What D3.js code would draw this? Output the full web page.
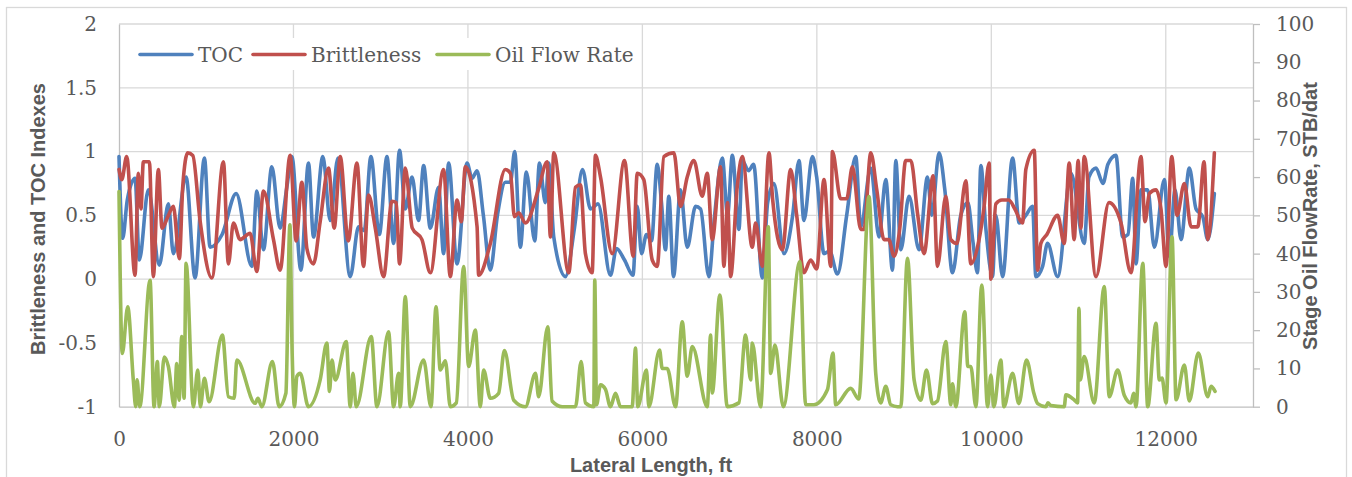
<!DOCTYPE html>
<html>
<head>
    <meta charset="utf-8">
    <title>TOC, Brittleness and Oil Flow Rate</title>
    <style>
        body { margin: 0; background: #fff; }
        .grid line { stroke: #d9d9d9; stroke-width: 1.3px; }
        .axis .domain, .axis line { stroke: #bfbfbf; stroke-width: 1.3px; }
        .axis text, .legend text {
            font-family: "DejaVu Serif", serif;
            font-size: 20px;
            fill: #595959;
        }
        .title {
            font-family: "Liberation Sans", Arial, sans-serif;
            font-weight: bold;
            font-size: 20px;
            fill: #595959;
        }
        .series { fill: none; stroke-width: 3.6px; stroke-linejoin: round; stroke-linecap: round; }
    </style>
</head>
<body>
<script src="https://cdn.jsdelivr.net/npm/d3@7"></script>
<script>
    // values: [lateral length ft, value]
    var tocPoints = [[0,0.96],[42,0.32],[95,0.62],[184,0.79],[233,0.15],[336,0.70],[462,0.11],[566,0.59],[623,0.20],[769,0.80],[872,0.01],[979,0.95],[1044,0.25],[1182,0.35],[1343,0.67],[1523,0.10],[1580,0.69],[1656,0.23],[1752,0.88],[1847,0.40],[1924,0.72],[1982,0.96],[2085,0.07],[2172,0.91],[2230,0.33],[2337,0.96],[2421,0.46],[2510,0.95],[2651,0.02],[2746,0.41],[2811,0.38],[2888,0.96],[2984,0.35],[3072,0.96],[3148,0.28],[3216,1.01],[3282,0.55],[3359,0.80],[3434,0.46],[3492,0.89],[3569,0.40],[3664,0.72],[3721,0.20],[3779,0.91],[3875,0.12],[3990,0.91],[4047,0.79],[4105,0.85],[4177,0.50],[4257,0.07],[4338,0.50],[4429,0.76],[4487,0.76],[4536,1.00],[4601,0.25],[4670,0.84],[4766,0.30],[4820,0.91],[4888,0.60],[4926,0.91],[4984,0.33],[5118,0.02],[5221,0.40],[5313,0.86],[5405,0.55],[5491,0.59],[5634,0.03],[5703,0.24],[5795,0.15],[5892,0.03],[5941,0.57],[5990,0.20],[6047,0.35],[6105,0.30],[6170,0.90],[6219,0.60],[6265,0.23],[6303,0.65],[6357,0.02],[6437,0.70],[6514,0.25],[6610,0.57],[6667,0.55],[6762,0.02],[6828,0.50],[6916,0.95],[6977,0.50],[7031,0.97],[7107,0.39],[7145,0.93],[7218,0.85],[7275,0.90],[7375,0.01],[7436,0.60],[7508,0.75],[7623,0.20],[7723,0.50],[7795,0.93],[7852,0.46],[7949,0.96],[7998,0.80],[8082,0.20],[8147,0.22],[8236,0.04],[8342,0.50],[8446,0.96],[8503,0.41],[8618,0.87],[8713,0.33],[8790,0.78],[8867,0.07],[8905,0.93],[8962,0.23],[9057,0.65],[9172,0.23],[9268,0.80],[9318,0.50],[9401,0.99],[9467,0.70],[9555,0.05],[9650,0.50],[9731,0.60],[9788,0.30],[9842,0.05],[9880,0.89],[9937,0.40],[10014,0.02],[10052,0.50],[10129,0.02],[10244,0.95],[10320,0.44],[10396,0.50],[10473,0.57],[10511,0.02],[10588,0.10],[10645,0.28],[10760,0.02],[10913,0.83],[11065,0.28],[11119,0.80],[11200,0.87],[11280,0.75],[11337,0.90],[11429,0.97],[11506,0.33],[11567,0.35],[11621,0.79],[11659,0.12],[11716,0.70],[11793,0.70],[11869,0.25],[11984,0.78],[12041,0.18],[12106,0.70],[12175,0.31],[12270,0.87],[12347,0.55],[12424,0.49],[12481,0.31],[12557,0.67]];

    var brittlePoints = [[0,0.86],[31,0.78],[88,0.96],[184,0.03],[221,0.83],[252,0.55],[279,0.92],[348,0.92],[394,0.02],[451,0.86],[493,0.40],[566,0.50],[623,0.57],[692,0.16],[731,0.73],[788,0.99],[846,0.97],[929,0.46],[1064,0.01],[1197,0.92],[1254,0.12],[1312,0.44],[1388,0.31],[1503,0.36],[1580,0.06],[1656,0.69],[1771,0.31],[1847,0.07],[1962,0.97],[2031,0.30],[2096,0.76],[2154,0.24],[2230,0.12],[2306,0.45],[2402,0.87],[2467,0.40],[2536,0.96],[2628,0.30],[2728,0.91],[2803,0.10],[2861,0.66],[2938,0.40],[3033,0.02],[3129,0.61],[3179,0.60],[3216,0.12],[3282,0.87],[3362,0.40],[3473,0.31],[3569,0.05],[3721,0.86],[3798,0.02],[3875,0.62],[3924,0.45],[3970,0.88],[4105,0.41],[4123,0.03],[4257,0.28],[4429,0.86],[4487,0.83],[4533,0.49],[4582,0.52],[4659,0.44],[4811,0.71],[4908,0.92],[4946,0.33],[4984,0.99],[5156,0.05],[5233,0.72],[5290,0.74],[5347,0.20],[5424,0.05],[5462,0.97],[5520,0.80],[5654,0.20],[5795,0.93],[5895,0.18],[5941,0.83],[6016,0.78],[6113,0.15],[6170,0.10],[6246,0.96],[6361,0.99],[6437,0.57],[6514,0.80],[6590,0.93],[6686,0.65],[6744,0.83],[6801,0.31],[6896,0.88],[6934,0.10],[6977,0.60],[7011,0.02],[7088,0.73],[7145,0.96],[7260,0.25],[7298,0.44],[7375,0.10],[7451,0.99],[7494,0.62],[7605,0.23],[7700,0.86],[7769,0.50],[7852,0.05],[7929,0.15],[7998,0.08],[8082,0.78],[8159,0.10],[8178,1.00],[8273,0.63],[8342,0.63],[8408,0.88],[8503,0.39],[8541,0.39],[8618,0.99],[8687,0.70],[8770,0.31],[8824,0.31],[8885,0.18],[8951,0.40],[9019,0.93],[9077,0.93],[9157,0.50],[9229,0.20],[9333,0.81],[9383,0.10],[9478,0.65],[9536,0.31],[9605,0.28],[9708,0.77],[9765,0.12],[9857,0.30],[9914,0.55],[9975,0.91],[9995,0.00],[10052,0.59],[10121,0.62],[10201,0.62],[10270,0.55],[10358,0.44],[10396,0.86],[10492,1.01],[10531,0.07],[10568,0.28],[10637,0.35],[10760,0.50],[10836,0.28],[10893,0.91],[10950,0.31],[10996,0.93],[11027,0.40],[11065,0.96],[11200,0.02],[11349,0.60],[11487,0.44],[11601,0.05],[11716,0.96],[11762,0.45],[11811,0.67],[11888,0.70],[11945,0.55],[12003,0.10],[12068,0.96],[12129,0.50],[12213,0.75],[12290,0.41],[12367,0.41],[12439,0.92],[12481,0.31],[12557,0.99]];

    // stage oil flow rate, STB/d (right axis)
    var oilPoints = [[0,56.2],[38,13.9],[100,26.1],[164,7],[192,0],[207,7],[238,0],[356,33],[402,0],[440,11.8],[462,0],[520,13],[566,10.5],[635,0],[662,11.3],[689,1.7],[719,18.3],[746,2.2],[769,37.5],[853,0],[903,9.6],[933,0],[979,7.4],[1033,1.3],[1185,18.7],[1254,2.6],[1320,2.2],[1351,12.2],[1561,0.9],[1592,2.2],[1637,0],[1759,11.8],[1836,0],[1913,3.5],[1959,47.5],[1985,14],[2012,0],[2039,7.9],[2077,8.7],[2172,0],[2306,7],[2383,16.6],[2413,4],[2441,12.2],[2479,7],[2605,17],[2651,0],[2682,8.7],[2720,0],[2892,18.3],[2957,0],[3090,19.6],[3148,0],[3205,8.7],[3224,0],[3282,28.8],[3339,0],[3492,12.2],[3577,0],[3634,26.1],[3683,9.6],[3741,12],[3798,0],[3867,1],[3951,36.6],[4008,10.5],[4085,20],[4142,0],[4180,9.6],[4257,2.2],[4352,3.5],[4418,14.7],[4525,1.7],[4659,0],[4774,8.7],[4811,2.6],[4915,20.9],[4965,1.5],[5080,0],[5233,0],[5298,11.8],[5347,1],[5443,0],[5454,33.1],[5474,0.5],[5520,5.7],[5577,4.5],[5634,0],[5692,3.5],[5749,0],[5883,0],[5921,15.3],[5947,0],[6047,9.6],[6074,0],[6197,14.8],[6227,10],[6285,10],[6380,0],[6457,22.2],[6514,8],[6572,15.7],[6744,0],[6782,18.7],[6801,3.6],[6888,29.2],[6973,0],[7106,1],[7183,18.7],[7241,7],[7260,16.6],[7355,0],[7444,47],[7470,8.7],[7520,16.1],[7616,0],[7806,37.9],[7872,0.5],[7967,0.5],[8121,4.4],[8185,14],[8216,0.5],[8388,4.8],[8480,2],[8598,54.9],[8675,8.7],[8732,1],[8790,5.3],[8847,0.5],[8924,0],[8962,0],[9039,38.8],[9115,7],[9192,1.7],[9257,9.6],[9326,0.8],[9383,1.5],[9478,17],[9536,0.5],[9555,6],[9593,0],[9696,24.8],[9731,10.5],[9765,10.5],[9823,0],[9891,31.8],[9957,0],[9995,8.3],[10029,0],[10109,12.2],[10144,0],[10244,8.7],[10316,0.8],[10404,12.2],[10488,3.5],[10531,0.8],[10626,0],[10649,1],[10683,0.3],[10836,0],[10855,3.1],[10950,1.8],[10989,1],[11005,25.7],[11020,7],[11065,13.1],[11180,1],[11295,31.4],[11352,2.6],[11448,9.6],[11524,3],[11601,1],[11632,3.5],[11659,0],[11736,37.5],[11793,0],[11888,21.8],[11926,7],[11957,7.5],[12003,1],[12072,44.4],[12118,1.8],[12213,10.9],[12270,1.5],[12373,14],[12481,2.6],[12519,5.3],[12565,4]];

    var xTicks = [0, 2000, 4000, 6000, 8000, 10000, 12000];
    var leftTicks = [-1, -0.5, 0, 0.5, 1, 1.5, 2];
    var rightTicks = [0, 10, 20, 30, 40, 50, 60, 70, 80, 90, 100];
    var seriesNames = ["TOC", "Brittleness", "Oil Flow Rate"];
    var seriesColors = ["#4f81bd", "#c0504d", "#9bbb59"];

    var W = 1352, H = 477;
    var plot = {left: 119, right: 1253, top: 24, bottom: 406.7};

    var svg = d3.select("body").append("svg")
        .attr("width", W)
        .attr("height", H);

    // outer chart border
    svg.append("rect")
        .attr("x", 6.5).attr("y", 7.5)
        .attr("width", 1340).attr("height", 490)
        .attr("fill", "#fff")
        .attr("stroke", "#d9d9d9")
        .attr("stroke-width", 1.3);

    var x = d3.scaleLinear().domain([0, 13000]).range([plot.left, plot.right]);
    var yLeft = d3.scaleLinear().domain([-1, 2]).range([plot.bottom, plot.top]);
    var yRight = d3.scaleLinear().domain([0, 100]).range([plot.bottom, plot.top]);

    // gridlines
    var grid = svg.append("g").attr("class", "grid");
    grid.selectAll("line.h")
        .data(leftTicks.filter(function (d) { return d > -1; }))
        .enter().append("line")
        .attr("x1", plot.left).attr("x2", plot.right)
        .attr("y1", function (d) { return yLeft(d); })
        .attr("y2", function (d) { return yLeft(d); });
    grid.selectAll("line.v")
        .data(xTicks.filter(function (d) { return d > 0; }))
        .enter().append("line")
        .attr("y1", plot.top).attr("y2", plot.bottom)
        .attr("x1", function (d) { return x(d); })
        .attr("x2", function (d) { return x(d); });

    // axes
    svg.append("g")
        .attr("class", "axis")
        .attr("transform", "translate(" + plot.left + ",0)")
        .call(d3.axisLeft(yLeft).tickValues(leftTicks).tickSize(0).tickPadding(22)
            .tickFormat(function (d) { return String(d); }));

    svg.append("g")
        .attr("class", "axis")
        .attr("transform", "translate(" + plot.right + ",0)")
        .call(d3.axisRight(yRight).tickValues(rightTicks).tickSizeInner(7).tickSizeOuter(0).tickPadding(16));

    svg.append("g")
        .attr("class", "axis")
        .attr("transform", "translate(0," + plot.bottom + ")")
        .call(d3.axisBottom(x).tickValues(xTicks).tickSize(0).tickPadding(25)
            .tickFormat(function (d) { return String(d); }));

    // series
    function lineFor(yScale) {
        return d3.line()
            .x(function (d) { return x(d[0]); })
            .y(function (d) { return yScale(d[1]); })
            .curve(d3.curveMonotoneX);
    }

    svg.append("path").datum(tocPoints)
        .attr("class", "series")
        .attr("stroke", seriesColors[0])
        .attr("d", lineFor(yLeft));

    svg.append("path").datum(brittlePoints)
        .attr("class", "series")
        .attr("stroke", seriesColors[1])
        .attr("d", lineFor(yLeft));

    svg.append("path").datum(oilPoints)
        .attr("class", "series")
        .attr("stroke", seriesColors[2])
        .attr("d", lineFor(yRight));

    // legend inside the plot, top left
    var legend = svg.append("g").attr("class", "legend");
    legend.append("rect")
        .attr("x", 130).attr("y", 38)
        .attr("width", 510).attr("height", 32)
        .attr("fill", "#fff");
    var legendX = [140, 253, 437];
    seriesNames.forEach(function (name, i) {
        legend.append("line")
            .attr("x1", legendX[i]).attr("x2", legendX[i] + 52)
            .attr("y1", 54.5).attr("y2", 54.5)
            .attr("stroke", seriesColors[i])
            .attr("stroke-width", 3.6)
            .attr("stroke-linecap", "round");
        legend.append("text")
            .attr("x", legendX[i] + 58)
            .attr("y", 54.5)
            .attr("dy", "0.35em")
            .text(name);
    });

    // axis titles
    svg.append("text")
        .attr("class", "title")
        .attr("text-anchor", "middle")
        .attr("transform", "translate(45,219) rotate(-90)")
        .text("Brittleness and TOC Indexes");

    svg.append("text")
        .attr("class", "title")
        .attr("text-anchor", "middle")
        .attr("transform", "translate(1317,216) rotate(-90)")
        .text("Stage Oil FlowRate, STB/dat");

    svg.append("text")
        .attr("class", "title")
        .attr("text-anchor", "middle")
        .attr("x", 651)
        .attr("y", 472)
        .text("Lateral Length, ft");
</script>
</body>
</html>
